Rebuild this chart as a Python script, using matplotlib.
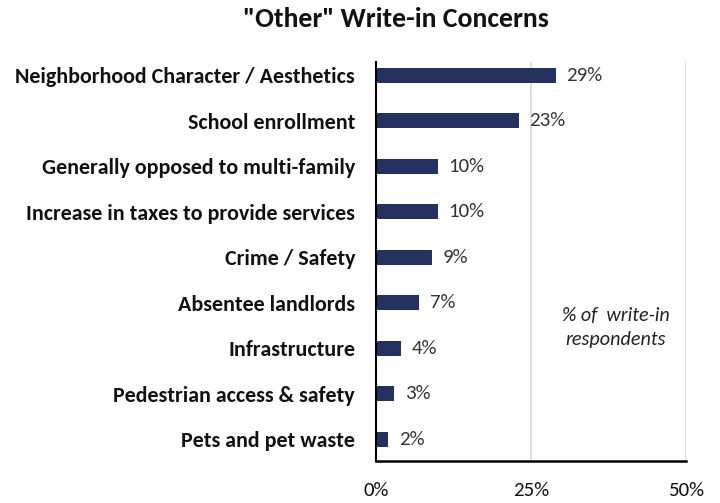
import matplotlib
matplotlib.use("Agg")
import matplotlib.pyplot as plt
from matplotlib.ticker import FuncFormatter

plt.rcParams['font.family'] = ['Carlito', 'Lato', 'DejaVu Sans']

categories = [
    "Neighborhood Character / Aesthetics",
    "School enrollment",
    "Generally opposed to multi-family",
    "Increase in taxes to provide services",
    "Crime / Safety",
    "Absentee landlords",
    "Infrastructure",
    "Pedestrian access & safety",
    "Pets and pet waste",
]
values = [29, 23, 10, 10, 9, 7, 4, 3, 2]
x_ticks = [0, 25, 50]

bar_color = "#253260"

fig = plt.figure(figsize=(7.2, 5.03), dpi=100)
ax = fig.add_axes([0.522, 0.0835, 0.431, 0.7935])

y = list(range(len(categories)))
ax.barh(y, values, height=0.33, color=bar_color, zorder=3)

for yi, v in zip(y, values):
    ax.text(v + 1.7, yi, f"{v}%", va="center", ha="left", fontsize=15, color="#333333")

ax.set_xlim(0, 50)
ax.set_ylim(8.48, -0.29)
ax.set_yticks(y)
ax.set_yticklabels(categories, fontsize=15.8, fontweight="bold", color="#111111")
ax.set_xticks(x_ticks)
ax.xaxis.set_major_formatter(FuncFormatter(lambda v, p: f"{v:.0f}%"))
ax.tick_params(axis="x", labelsize=15, length=0, pad=15, colors="#111111")
ax.tick_params(axis="y", length=0, pad=15)

ax.grid(axis="x", color="#d9d9d9", linewidth=1.2, zorder=0)
for s in ["top", "right"]:
    ax.spines[s].set_visible(False)
ax.spines["left"].set_linewidth(1.5)
ax.spines["bottom"].set_linewidth(1.8)
ax.spines["left"].set_zorder(4)

ax.text(38.7, 5.55, "% of  write-in\nrespondents", ha="center", va="center",
        fontsize=14.5, style="italic", color="#222222", linespacing=1.5)

fig.text(0.55, 0.962, "\"Other\" Write-in Concerns", ha="center", va="center",
         fontsize=20, fontweight="bold", color="#111111")

fig.savefig("out.png", dpi=100)
